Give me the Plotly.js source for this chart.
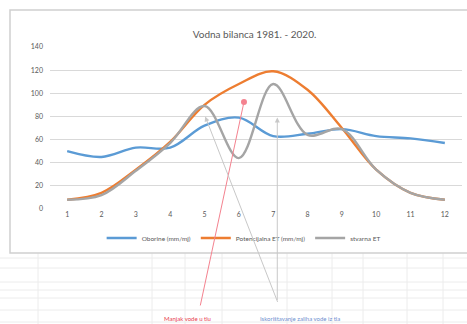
<!DOCTYPE html>
<html><head><meta charset="utf-8">
<script src="https://cdn.plot.ly/plotly-3.0.1.min.js"></script>
<style>html,body{margin:0;padding:0;background:#fff}#c{width:467px;height:324px}</style>
</head><body><div id="c"></div>
<script>
const months = [1,2,3,4,5,6,7,8,9,10,11,12];
const monthLabels = ['1','2','3','4','5','6','7','8','9','10','11','12'];
const oborine = [50,45,53,53,72,79,63,65,69,63,61,57];
const potET = [8,14,34,58,90,108,119,103,70,34,14,8];
const stvET = [8,12,33,57,89,44,108,64,69,34,14,8];
const yTicks = [0,20,40,60,80,100,120,140];
const seriesNames = ['Oborine (mm/mj)','Potencijalna ET (mm/mj)','stvarna ET'];
const noteRed = 'Manjak vode u tlu';
const noteBlue = 'Iskorištavanje zaliha vode iz tla';

const L=50, T=47, W=412, H=162;
const px = v => (v-L)/W, py = v => (T+H-v)/H;

const mk = (y,name,color) => ({x:months,y:y,name:name,type:'scatter',mode:'lines',
  line:{color:color,width:2.4,shape:'spline',smoothing:1}});

const shapes = [];
[258,268,282,290,298,310,322].forEach(v=>shapes.push({type:'line',xref:'paper',yref:'paper',
  x0:px(0),x1:px(467),y0:py(v),y1:py(v),line:{color:'#ececec',width:1}}));
[38,152,185,222,287,332,363,407,443].forEach(v=>shapes.push({type:'line',xref:'paper',yref:'paper',
  x0:px(v),x1:px(v),y0:py(253),y1:py(324),line:{color:'#ececec',width:1}}));
shapes.push({type:'rect',xref:'paper',yref:'paper',x0:px(10),x1:px(468),y0:py(253),y1:py(10),
  line:{color:'#d0d0d0',width:1.5},fillcolor:'rgba(0,0,0,0)'});

const ann = [
  {x:6.15,y:92.5,xref:'x',yref:'y',text:'',showarrow:true,ax:-44,ay:205,
   arrowcolor:'#f4828f',arrowwidth:1,arrowhead:6,arrowsize:1.5},
  {x:px(187),y:py(318),xref:'paper',yref:'paper',text:noteRed,showarrow:false,
   xanchor:'center',yanchor:'middle',font:{size:6,color:'#e8404f'}},
  {x:5.02,y:80,xref:'x',yref:'y',text:'',showarrow:true,ax:73,ay:187,
   arrowcolor:'#c8c8c8',arrowwidth:1,arrowhead:2,arrowsize:1},
  {x:7.12,y:79,xref:'x',yref:'y',text:'',showarrow:true,ax:0,ay:184,
   arrowcolor:'#c8c8c8',arrowwidth:1,arrowhead:2,arrowsize:1},
  {x:px(300),y:py(318),xref:'paper',yref:'paper',text:noteBlue,showarrow:false,
   xanchor:'center',yanchor:'middle',font:{size:6,color:'#6f8fcf'}}
];

Plotly.newPlot('c',[mk(oborine,seriesNames[0],'#5b9bd5'),mk(potET,seriesNames[1],'#ed7d31'),mk(stvET,seriesNames[2],'#a5a5a5')],{
  width:467,height:324,margin:{l:L,r:467-L-W,t:T,b:324-T-H},
  paper_bgcolor:'#fff',plot_bgcolor:'#fff',
  font:{family:'Lato, Liberation Sans, sans-serif',color:'#595959',size:7},
  title:{text:'Vodna bilanca 1981. - 2020.',x:0.545,xanchor:'center',y:0.892,yanchor:'middle',
    font:{size:10,color:'#595959'}},
  xaxis:{range:[0.5,12.5],tickvals:months,ticktext:monthLabels,showgrid:false,zeroline:false,
    showline:false,ticks:'',tickfont:{size:7,color:'#595959'},fixedrange:true},
  yaxis:{range:[0,140],tickvals:yTicks,showgrid:true,gridcolor:'#d9d9d9',gridwidth:1,zeroline:false,
    ticks:'',ticklabelstandoff:6,tickfont:{size:7,color:'#595959'},fixedrange:true},
  showlegend:true,
  legend:{orientation:'h',x:0.47,xanchor:'center',y:py(238),yanchor:'middle',
    font:{size:6.5,color:'#595959'},tracegroupgap:0,bgcolor:'rgba(0,0,0,0)'},
  shapes:shapes,annotations:ann
},{displayModeBar:false,staticPlot:true});
</script></body></html>
